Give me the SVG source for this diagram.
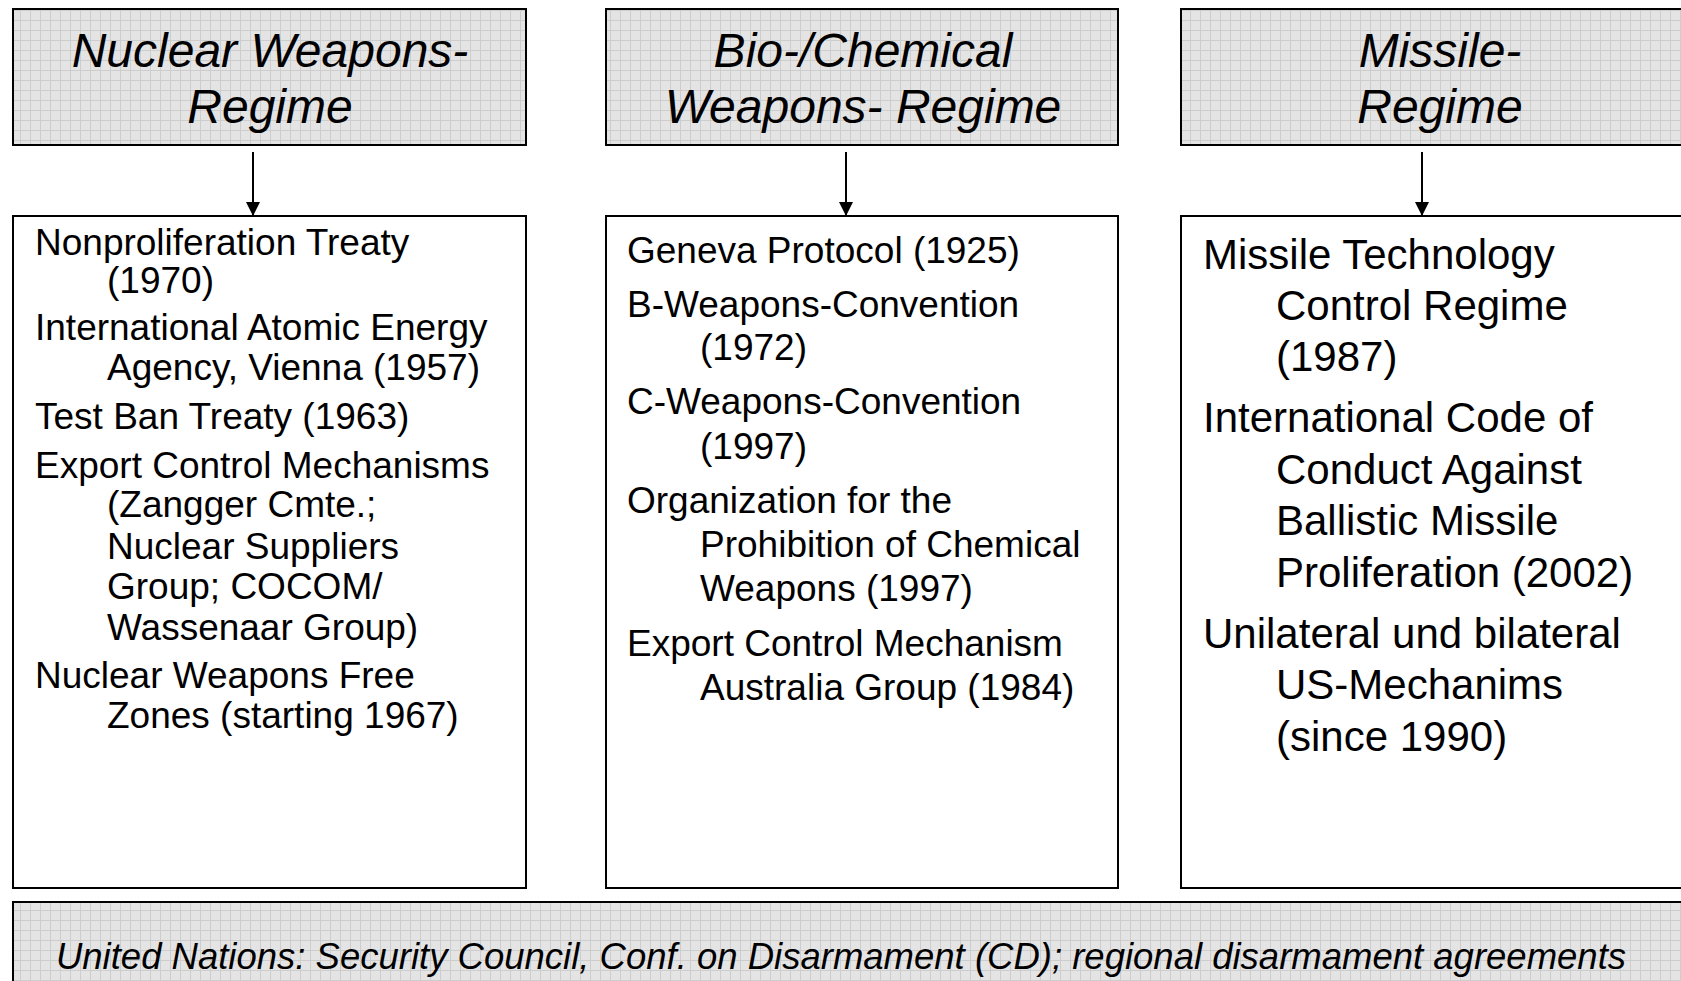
<svg xmlns="http://www.w3.org/2000/svg" width="1681" height="981" viewBox="0 0 1681 981">
<defs>
<pattern id="grid" width="10" height="10" patternUnits="userSpaceOnUse">
<rect width="10" height="10" fill="#e4e4e4"/>
<path d="M0,0.5 H10 M0.5,0 V10" stroke="#cdcdcd" stroke-width="1" fill="none"/>
</pattern>
<marker id="arr" viewBox="0 0 14 15" refX="14" refY="7" markerWidth="14" markerHeight="15" markerUnits="userSpaceOnUse" orient="auto">
<path d="M0,0 L14,7 L0,14 z" fill="#000"/>
</marker>
</defs>
<style>
.hdr{fill:url(#grid);stroke:#000;stroke-width:2}
.box{fill:#fff;stroke:#000;stroke-width:2}
.ht{font-family:"Liberation Sans",Arial,sans-serif;font-style:italic;font-size:48px;fill:#000;text-anchor:middle}
.bt{font-family:"Liberation Sans",Arial,sans-serif;font-size:37px;fill:#000}
.bt3{font-family:"Liberation Sans",Arial,sans-serif;font-size:42px;fill:#000}
.ft{font-family:"Liberation Sans",Arial,sans-serif;font-style:italic;font-size:36.5px;fill:#000;text-anchor:middle}
.conn{stroke:#000;stroke-width:2;fill:none}
</style>
<rect width="1681" height="981" fill="#fff"/>

<g id="hdr-nuclear">
<rect class="hdr" x="13" y="9" width="513" height="136"/>
<text class="ht" x="270" y="67">Nuclear Weapons-</text>
<text class="ht" x="270" y="123">Regime</text>
</g>
<g id="hdr-biochem">
<rect class="hdr" x="606" y="9" width="512" height="136"/>
<text class="ht" x="863" y="67">Bio-/Chemical</text>
<text class="ht" x="863" y="123">Weapons- Regime</text>
</g>
<g id="hdr-missile">
<rect class="hdr" x="1181" y="9" width="520" height="136"/>
<text class="ht" x="1440" y="67">Missile-</text>
<text class="ht" x="1440" y="123">Regime</text>
</g>

<g id="connectors">
<line class="conn" x1="253" y1="152" x2="253" y2="216" marker-end="url(#arr)"/>
<line class="conn" x1="846" y1="152" x2="846" y2="216" marker-end="url(#arr)"/>
<line class="conn" x1="1422" y1="152" x2="1422" y2="216" marker-end="url(#arr)"/>
</g>

<g id="box-nuclear">
<rect class="box" x="13" y="216" width="513" height="672"/>
<text class="bt" x="35" y="255">Nonproliferation Treaty</text>
<text class="bt" x="107" y="293">(1970)</text>
<text class="bt" x="35" y="340">International Atomic Energy</text>
<text class="bt" x="107" y="380">Agency, Vienna (1957)</text>
<text class="bt" x="35" y="429">Test Ban Treaty (1963)</text>
<text class="bt" x="35" y="478">Export Control Mechanisms</text>
<text class="bt" x="107" y="517">(Zangger Cmte.;</text>
<text class="bt" x="107" y="559">Nuclear Suppliers</text>
<text class="bt" x="107" y="599">Group; COCOM/</text>
<text class="bt" x="107" y="640">Wassenaar Group)</text>
<text class="bt" x="35" y="688">Nuclear Weapons Free</text>
<text class="bt" x="107" y="728">Zones (starting 1967)</text>
</g>

<g id="box-biochem">
<rect class="box" x="606" y="216" width="512" height="672"/>
<text class="bt" x="627" y="263">Geneva Protocol (1925)</text>
<text class="bt" x="627" y="317">B-Weapons-Convention</text>
<text class="bt" x="700" y="360">(1972)</text>
<text class="bt" x="627" y="414">C-Weapons-Convention</text>
<text class="bt" x="700" y="459">(1997)</text>
<text class="bt" x="627" y="513">Organization for the</text>
<text class="bt" x="700" y="557">Prohibition of Chemical</text>
<text class="bt" x="700" y="601">Weapons (1997)</text>
<text class="bt" x="627" y="656">Export Control Mechanism</text>
<text class="bt" x="700" y="700">Australia Group (1984)</text>
</g>

<g id="box-missile">
<rect class="box" x="1181" y="216" width="520" height="672"/>
<text class="bt3" x="1203" y="269">Missile Technology</text>
<text class="bt3" x="1276" y="320">Control Regime</text>
<text class="bt3" x="1276" y="371">(1987)</text>
<text class="bt3" x="1203" y="432">International Code of</text>
<text class="bt3" x="1276" y="484">Conduct Against</text>
<text class="bt3" x="1276" y="535">Ballistic Missile</text>
<text class="bt3" x="1276" y="587">Proliferation (2002)</text>
<text class="bt3" x="1203" y="648">Unilateral und bilateral</text>
<text class="bt3" x="1276" y="699">US-Mechanims</text>
<text class="bt3" x="1276" y="751">(since 1990)</text>
</g>

<g id="box-un">
<rect class="hdr" x="13" y="902" width="1690" height="100"/>
<text class="ft" x="841" y="969">United Nations: Security Council, Conf. on Disarmament (CD); regional disarmament agreements</text>
</g>
</svg>
